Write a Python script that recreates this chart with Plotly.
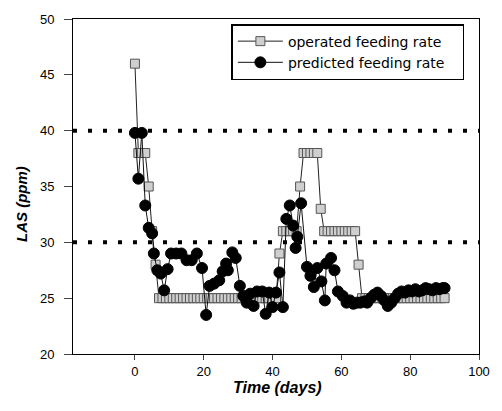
import plotly.graph_objects as go

# Operated feeding rate (days, LAS ppm)
op_days = list(range(0, 91))
op_las = ([46, 38, 38, 38, 35, 31, 28] + [25] * 35 + [29] + [31] * 5 + [35] +
          [38] * 5 + [33] + [31] * 10 + [28] + [25] * 25)

# Predicted feeding rate (days, LAS ppm)
pr_days = [0, 1, 2, 3, 4, 5, 5.5, 6.5, 7.5, 8.5, 9.5, 10.5, 12, 13.5, 15, 16.5, 18, 19.5,
           20.7, 21.7, 23, 24.5, 25.5, 26.5, 27, 28.3, 29.3, 30.5, 31.5, 32.5, 33.5, 34.5,
           35.5, 37, 38, 39, 40, 41, 42, 43, 44, 45, 46, 46.7, 47.2, 48.3, 50, 51, 52, 53,
           54.2, 55.2, 55.6, 57, 58, 59, 60.4, 61.5, 62.5, 63.5, 64.5, 65.5, 66.5, 67.5,
           68.5, 69.5, 70.5, 71.5, 72.5, 73.5, 74.5, 75.5, 76.5, 77.5, 78.5, 79.5, 80.5,
           81.5, 82.5, 83.5, 84.5, 85.5, 86.5, 87.5, 88.5, 89.5, 90]
pr_las = [39.8, 35.7, 39.8, 33.3, 31.3, 30.8, 29.0, 27.5, 27.2, 25.7, 27.6, 29.0, 29.0, 29.0,
          28.4, 28.4, 29.0, 27.7, 23.5, 26.1, 26.3, 26.6, 27.4, 28.1, 27.5, 29.1, 28.6, 26.1,
          25.2, 24.6, 25.4, 24.3, 25.6, 25.6, 23.6, 25.5, 24.2, 25.5, 27.3, 24.2, 32.1, 33.3,
          31.5, 29.5, 30.5, 33.5, 27.8, 27.0, 26.0, 27.7, 26.5, 24.8, 28.1, 28.6, 27.5, 25.6,
          25.2, 24.6, 24.8, 24.5, 24.6, 24.6, 24.7, 24.6, 25.0, 25.3, 25.5, 25.2, 24.8, 24.3,
          24.6, 25.0, 25.4, 25.6, 25.5, 25.7, 25.6, 25.8, 25.6, 25.7, 25.9, 25.8, 25.7, 25.9,
          25.8, 25.9, 25.9]

ref_levels = [40, 30]
x_ticks = [0, 20, 40, 60, 80, 100]
y_ticks = [20, 25, 30, 35, 40, 45, 50]

FONT = "Liberation Sans, Arial, sans-serif"
PAD = "\u00a0\u00a0\u00a0"

fig = go.Figure()
fig.add_trace(go.Scatter(
    x=op_days, y=op_las, mode="lines+markers", name="operated feeding rate" + PAD,
    line=dict(color="#222222", width=1),
    marker=dict(symbol="square", size=9, color="#cfcfcf",
                line=dict(color="#555555", width=1)),
))
fig.add_trace(go.Scatter(
    x=pr_days, y=pr_las, mode="lines+markers", name="predicted feeding rate" + PAD,
    line=dict(color="#111111", width=1),
    marker=dict(symbol="circle", size=11, color="#000000",
                line=dict(color="#000000", width=1)),
))

for lv in ref_levels:
    fig.add_shape(type="line", xref="paper", x0=0, x1=1, yref="y", y0=lv, y1=lv,
                  line=dict(color="black", width=4, dash="4px,11px"), layer="below")

fig.update_layout(
    width=502, height=411,
    margin=dict(l=73, r=12, t=13, b=57),
    paper_bgcolor="white", plot_bgcolor="white",
    font=dict(family=FONT, size=13, color="black"),
    showlegend=True,
    legend=dict(x=0.964, y=0.985, xanchor="right", yanchor="top",
                bordercolor="black", borderwidth=1.5, bgcolor="white",
                font=dict(family="DejaVu Sans, sans-serif", size=14), tracegroupgap=0,
                itemwidth=45),
    xaxis=dict(range=[-18, 100], tickvals=x_ticks, ticks="outside", ticklen=5,
               ticklabelstandoff=0, ticklabeloverflow="allow",
               showline=True, linecolor="black", linewidth=1, mirror=True,
               showgrid=False, zeroline=False, tickfont=dict(size=13)),
    yaxis=dict(range=[20, 50], tickvals=y_ticks, ticks="outside", ticklen=8,
               ticklabelstandoff=7, ticklabeloverflow="allow",
               showline=True, linecolor="black", linewidth=1, mirror=True,
               showgrid=False, zeroline=False, tickfont=dict(size=13)),
    annotations=[
        dict(text="<b><i>Time (days)</i></b>", xref="paper", yref="paper",
             x=0.504, y=-0.1, xanchor="center", yanchor="middle", showarrow=False,
             font=dict(family=FONT, size=16)),
        dict(text="<b><i>LAS (ppm)</i></b>", xref="paper", yref="paper",
             x=-0.127, y=0.449, xanchor="center", yanchor="middle", showarrow=False,
             textangle=-90, font=dict(family=FONT, size=15)),
    ],
)

fig.write_html("out.html", config={"displayModeBar": False},
               post_script="document.body.style.margin='0';")
